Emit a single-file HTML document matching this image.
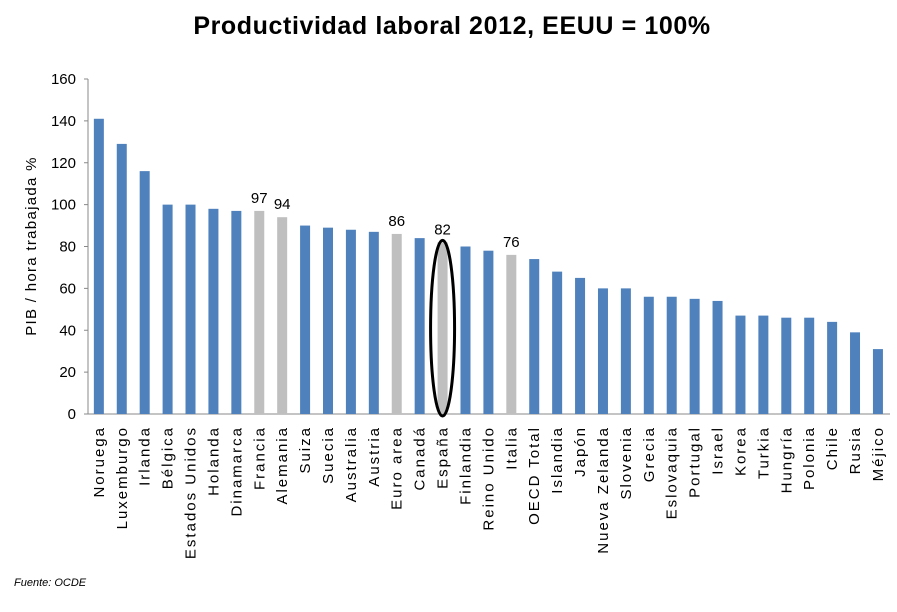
<!DOCTYPE html>
<html><head><meta charset="utf-8"><style>
body{margin:0;background:#fff;width:897px;height:607px;overflow:hidden;font-family:"Liberation Sans",sans-serif}
</style></head><body>
<svg id="c" width="897" height="607">
<text x="452" y="34" text-anchor="middle" font-size="25" font-weight="bold" letter-spacing="0.6" fill="#000">Productividad laboral 2012, EEUU = 100%</text>
<text x="36" y="246" transform="rotate(-90 36 246)" text-anchor="middle" font-size="15" letter-spacing="1.3" fill="#000">PIB / hora trabajada %</text>
<text x="14" y="586" font-size="11" font-style="italic" fill="#000">Fuente: OCDE</text>
<g id="g"></g>
</svg>
<script>
const categories=["Noruega","Luxemburgo","Irlanda","Bélgica","Estados Unidos","Holanda","Dinamarca","Francia","Alemania","Suiza","Suecia","Australia","Austria","Euro area","Canadá","España","Finlandia","Reino Unido","Italia","OECD Total","Islandia","Japón","Nueva Zelanda","Slovenia","Grecia","Eslovaquia","Portugal","Israel","Korea","Turkia","Hungría","Polonia","Chile","Rusia","Méjico"];
const values=[141,129,116,100,100,98,97,97,94,90,89,88,87,86,84,82,80,78,76,74,68,65,60,60,56,56,55,54,47,47,46,46,44,39,31];
const highlighted=["Francia","Alemania","Euro area","España","Italia"];
const labelled=["Francia","Alemania","Euro area","España","Italia"];
const ticks=[0,20,40,60,80,100,120,140,160];
const NS="http://www.w3.org/2000/svg",g=document.getElementById('g');
const x0=88,x1=890,y0=414,y1=79;
const step=(x1-x0)/categories.length;
const X=i=>x0+step*(i+0.5)-0.6;
const Y=v=>y0-(v/160)*(y0-y1);
function mk(t,a){const e=document.createElementNS(NS,t);for(const k in a)e.setAttribute(k,a[k]);g.appendChild(e);return e;}
let ax=mk('line',{x1:x0,y1:y1,x2:x0,y2:y0,stroke:'#888','stroke-width':1});


let bx=mk('line',{x1:x0-4,y1:y0,x2:x1,y2:y0,stroke:'#888','stroke-width':1});


ticks.forEach(t=>{
 mk('line',{x1:x0-4,y1:Y(t),x2:x0,y2:Y(t),stroke:'#888'});
 const tx=mk('text',{x:x0-12,y:Y(t)+5,'text-anchor':'end','font-size':15,fill:'#000'});
 tx.textContent=t;
 
 
});
categories.forEach((c,i)=>{
 const v=values[i],cx=X(i);
 const r=mk('rect',{x:cx-5,y:Y(v),width:10,height:y0-Y(v),fill:highlighted.includes(c)?'#bfbfbf':'#4f81bd'});
 
 
 const l=mk('text',{x:cx+5,y:y0+12,'text-anchor':'end','font-size':15,'letter-spacing':2,fill:'#000',transform:`rotate(-90 ${cx+5} ${y0+12})`});
 l.textContent=c;
 
 
 if(labelled.includes(c)){
  const d=mk('text',{x:cx,y:Y(v)-8,'text-anchor':'middle','font-size':15,fill:'#000'});
  d.textContent=v;
  
  
 }
 if(c==="España"){
  const e=mk('ellipse',{cx:cx,cy:(Y(v)+y0)/2,rx:12,ry:(y0-Y(v))/2+2,fill:'none',stroke:'#000','stroke-width':3});
  
  
 }
});
</script>
</body></html>
